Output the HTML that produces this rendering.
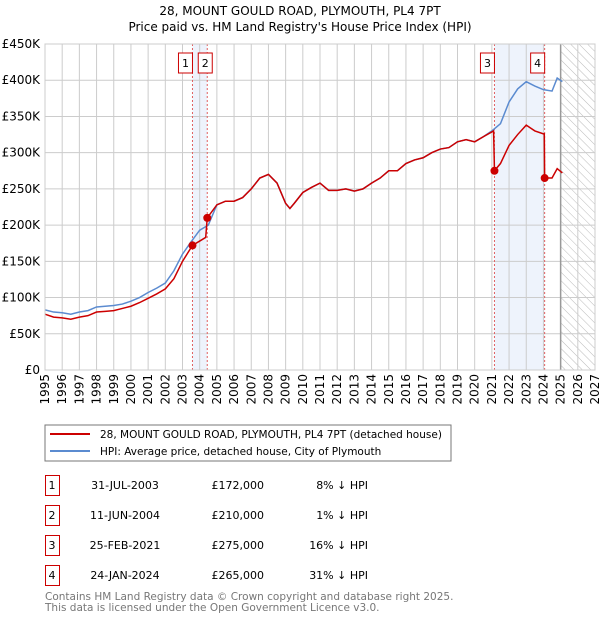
<!DOCTYPE html>
<html><head><meta charset="utf-8"><style>
body{margin:0;background:#fff;font-family:"DejaVu Sans","Liberation Sans",sans-serif}
svg text{font-family:"DejaVu Sans","Liberation Sans",sans-serif}
</style></head><body>
<svg id="c" width="600" height="620" xmlns="http://www.w3.org/2000/svg">
<defs><pattern id="hatch" width="6" height="6" patternUnits="userSpaceOnUse" patternTransform="rotate(-45)"><line x1="0" y1="0" x2="0" y2="6" stroke="#bbb" stroke-width="1"/></pattern></defs>
<text x="300" y="15" text-anchor="middle" font-size="12">28, MOUNT GOULD ROAD, PLYMOUTH, PL4 7PT</text>
<text x="300" y="31" text-anchor="middle" font-size="12">Price paid vs. HM Land Registry's House Price Index (HPI)</text>
<g id="plot"></g>
<rect x="45" y="425" width="406" height="36" fill="#fff" stroke="#777"/>
<line x1="50" y1="434" x2="90" y2="434" stroke="#cc0000" stroke-width="2"/>
<text x="100" y="438" font-size="10.5">28, MOUNT GOULD ROAD, PLYMOUTH, PL4 7PT (detached house)</text>
<line x1="50" y1="451" x2="90" y2="451" stroke="#5b8bd0" stroke-width="2"/>
<text x="100" y="455" font-size="10.5">HPI: Average price, detached house, City of Plymouth</text>
<g id="tbl" font-size="11"></g>
<text x="45" y="600" font-size="10.5" fill="#777">Contains HM Land Registry data © Crown copyright and database right 2025.</text>
<text x="45" y="611" font-size="10.5" fill="#777">This data is licensed under the Open Government Licence v3.0.</text>
</svg>
<script>
const hpiYears=[1995,1995.5,1996,1996.5,1997,1997.5,1998,1998.5,1999,1999.5,2000,2000.5,2001,2001.5,2002,2002.5,2003,2003.5,2004,2004.5,2005,2005.5,2006,2006.5,2007,2007.5,2008,2008.5,2009,2009.25,2009.5,2010,2010.5,2011,2011.5,2012,2012.5,2013,2013.5,2014,2014.5,2015,2015.5,2016,2016.5,2017,2017.5,2018,2018.5,2019,2019.5,2020,2020.5,2021,2021.5,2022,2022.5,2023,2023.5,2024,2024.5,2024.8,2025.1];
const hpiValues=[83,80,79,77,80,82,87,88,89,91,95,100,107,113,120,137,160,177,193,200,228,233,233,238,250,265,270,258,230,223,230,245,252,258,248,248,250,247,250,258,265,275,275,285,290,293,300,305,307,315,318,315,322,330,340,370,388,398,392,387,385,403,398];
const propYears=[1995,1995.5,1996,1996.5,1997,1997.5,1998,1998.5,1999,1999.5,2000,2000.5,2001,2001.5,2002,2002.5,2003,2003.58,2004,2004.35,2004.44,2005,2005.5,2006,2006.5,2007,2007.5,2008,2008.5,2009,2009.25,2009.5,2010,2010.5,2011,2011.5,2012,2012.5,2013,2013.5,2014,2014.5,2015,2015.5,2016,2016.5,2017,2017.5,2018,2018.5,2019,2019.5,2020,2020.5,2021.1,2021.15,2021.5,2022,2022.5,2023,2023.5,2024,2024.05,2024.07,2024.5,2024.8,2025.1];
const propValues=[77,73,72,70,73,75,80,81,82,85,88,93,99,105,112,126,150,172,178,183,210,228,233,233,238,250,265,270,258,230,223,230,245,252,258,248,248,250,247,250,258,265,275,275,285,290,293,300,305,307,315,318,315,322,330,275,285,310,325,338,330,326,326,265,265,278,272];
const saleLabels=["1","2","3","4"];
const saleYears=[2003.58,2004.44,2021.15,2024.07];
const salePrices=[172,210,275,265];
const saleDates=["31-JUL-2003","11-JUN-2004","25-FEB-2021","24-JAN-2024"];
const salePriceText=["£172,000","£210,000","£275,000","£265,000"];
const salePctText=["8% ↓ HPI","1% ↓ HPI","16% ↓ HPI","31% ↓ HPI"];
const yTicks=[0,50,100,150,200,250,300,350,400,450];
const yTickLabels=["£0","£50K","£100K","£150K","£200K","£250K","£300K","£350K","£400K","£450K"];
const xTicks=[1995,1996,1997,1998,1999,2000,2001,2002,2003,2004,2005,2006,2007,2008,2009,2010,2011,2012,2013,2014,2015,2016,2017,2018,2019,2020,2021,2022,2023,2024,2025,2026,2027];

const NS="http://www.w3.org/2000/svg";
const X0=45,X1=595,Y0=370,Y1=44;
const xs=v=>X0+(v-1995)/(2027-1995)*(X1-X0);
const ys=v=>Y0-v/450*(Y0-Y1);
const g=document.getElementById('plot');
function mk(t,a,p){const e=document.createElementNS(NS,t);for(const k in a)e.setAttribute(k,a[k]);(p||g).appendChild(e);return e;}
let e;
e=mk('rect',{x:xs(saleYears[0]),y:Y1,width:xs(saleYears[1])-xs(saleYears[0]),height:Y0-Y1,fill:'#eef3fc'});


e=mk('rect',{x:xs(saleYears[2]),y:Y1,width:xs(saleYears[3])-xs(saleYears[2]),height:Y0-Y1,fill:'#eef3fc'});


e=mk('rect',{x:xs(2025),y:Y1,width:X1-xs(2025),height:Y0-Y1,fill:'url(#hatch)'});


yTicks.forEach((v,i)=>{
 e=mk('line',{x1:X0,x2:X1,y1:ys(v),y2:ys(v),stroke:'#ccc'});
 
 
 e=mk('text',{x:X0-5,y:ys(v)+4,'text-anchor':'end','font-size':12});
 e.textContent=yTickLabels[i];
 
 
});
xTicks.forEach(v=>{
 e=mk('line',{x1:xs(v),x2:xs(v),y1:Y1,y2:Y0,stroke:'#ccc'});
 
 
 e=mk('text',{x:0,y:0,'text-anchor':'end','font-size':12,transform:`translate(${xs(v)+4},374) rotate(-90)`});
 e.textContent=v;
 
 
});
e=mk('line',{x1:xs(2025),x2:xs(2025),y1:Y1,y2:Y0,stroke:'#999','stroke-width':1.5});


saleYears.forEach((v,i)=>{
 e=mk('line',{x1:xs(v),x2:xs(v),y1:Y1,y2:Y0,stroke:'#e06060','stroke-dasharray':'2,2'});
 
 
 e=mk('rect',{x:(i==1?xs(v)-9:xs(v)-14),y:53,width:14,height:20,fill:'#fff',stroke:'#cc0000'});
 
 
 e=mk('text',{x:(i==1?xs(v)-2:xs(v)-7),y:67,'text-anchor':'middle','font-size':11});
 e.textContent=saleLabels[i];
 
 
});
e=mk('polyline',{points:hpiYears.map((y,i)=>xs(y)+','+ys(hpiValues[i])).join(' '),fill:'none',stroke:'#5b8bd0','stroke-width':1.5});


e=mk('polyline',{points:propYears.map((y,i)=>xs(y)+','+ys(propValues[i])).join(' '),fill:'none',stroke:'#cc0000','stroke-width':1.5});


saleYears.forEach((v,i)=>{
 e=mk('circle',{cx:xs(v),cy:ys(salePrices[i]),r:4,fill:'#cc0000'});
 
 
});
e=mk('rect',{x:X0,y:Y1,width:X1-X0,height:Y0-Y1,fill:'none',stroke:'#ccc'});


const t=document.getElementById('tbl');
saleLabels.forEach((l,i)=>{
 const y=[475,505,535,565][i];
 e=mk('rect',{x:45.5,y:y+.5,width:14,height:20,fill:'#fff',stroke:'#cc0000'},t);
 
 
 e=mk('text',{x:52,y:y+14,'text-anchor':'middle'},t);e.textContent=l;
 
 
 e=mk('text',{x:125,y:y+14,'text-anchor':'middle'},t);e.textContent=saleDates[i];
 
 
 e=mk('text',{x:264,y:y+14,'text-anchor':'end'},t);e.textContent=salePriceText[i];
 
 
 e=mk('text',{x:368,y:y+14,'text-anchor':'end'},t);e.textContent=salePctText[i];
 
 
});
</script>
</body></html>
